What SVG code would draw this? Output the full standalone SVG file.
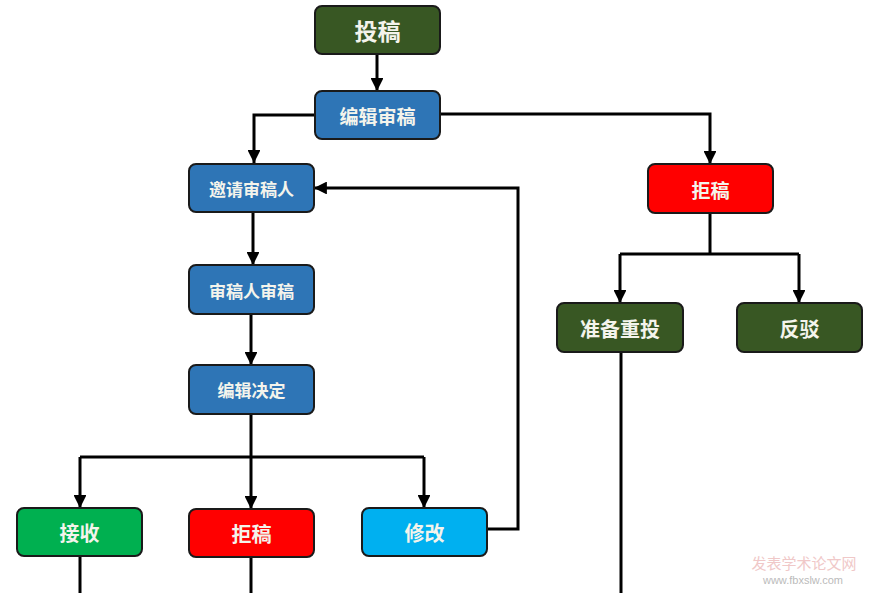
<svg xmlns="http://www.w3.org/2000/svg" width="870" height="593" viewBox="0 0 870 593">
<defs>
<marker id="ah" viewBox="0 0 10 10" refX="10" refY="5" markerWidth="4.3" markerHeight="4.3" orient="auto" markerUnits="strokeWidth">
<path d="M0,0 L10,5 L0,10 z" fill="#000"/>
</marker>
<style>
.n rect{stroke:#1a1a1a;stroke-width:2}
.n text{fill:#f4f4ec;font-family:"Noto Sans CJK SC","Noto Sans",sans-serif;font-weight:bold;text-anchor:middle;dominant-baseline:central}
.dg{fill:#385723}.bl{fill:#2e75b6}.rd{fill:#ff0000}.gr{fill:#00b050}.lb{fill:#00b0f0}
.c path{fill:none;stroke:#000;stroke-width:3}
.a{marker-end:url(#ah)}
.wm{font-family:"Noto Sans CJK SC",sans-serif;text-anchor:middle}
</style>
</defs>
<rect width="870" height="593" fill="#fff"/>
<g class="c" id="connectors">
<path class="a" d="M377,54 V91"/>
<path class="a" d="M315,115 H254 V163"/>
<path class="a" d="M440,114 H710 V164"/>
<path class="a" d="M253,212 V265"/>
<path class="a" d="M251,314 V365"/>
<path d="M251,414 V457"/>
<path d="M80,457 H424"/>
<path class="a" d="M80,457 V508"/>
<path class="a" d="M251,457 V509"/>
<path class="a" d="M424,457 V508"/>
<path class="a" d="M487,529 H518 V188 H314"/>
<path d="M710,213 V254"/>
<path d="M620,254 H799"/>
<path class="a" d="M620,254 V303"/>
<path class="a" d="M799,254 V303"/>
<path d="M621,352 V593"/>
<path d="M80,556 V593"/>
<path d="M251,557 V593"/>
</g>
<g class="n" id="n1"><rect class="dg" x="315" y="6" width="125" height="48" rx="7"/><text x="377.5" y="30" font-size="23">投稿</text></g>
<g class="n" id="n2"><rect class="bl" x="315" y="91" width="125" height="48" rx="7"/><text x="377.5" y="115" font-size="19">编辑审稿</text></g>
<g class="n" id="n3"><rect class="bl" x="189" y="164" width="125" height="48" rx="7"/><text x="251.5" y="188" font-size="17">邀请审稿人</text></g>
<g class="n" id="n4"><rect class="bl" x="189" y="265" width="125" height="49" rx="7"/><text x="251.5" y="290" font-size="17">审稿人审稿</text></g>
<g class="n" id="n5"><rect class="bl" x="189" y="365" width="125" height="49" rx="7"/><text x="251.5" y="389" font-size="17">编辑决定</text></g>
<g class="n" id="n6"><rect class="rd" x="648" y="164" width="125" height="49" rx="7"/><text x="710.5" y="189" font-size="19">拒稿</text></g>
<g class="n" id="n7"><rect class="dg" x="557" y="303" width="126" height="49" rx="7"/><text x="620" y="328" font-size="20">准备重投</text></g>
<g class="n" id="n8"><rect class="dg" x="737" y="303" width="125" height="49" rx="7"/><text x="799.5" y="328" font-size="20">反驳</text></g>
<g class="n" id="n9"><rect class="gr" x="17" y="508" width="125" height="48" rx="7"/><text x="79.5" y="532" font-size="20">接收</text></g>
<g class="n" id="n10"><rect class="rd" x="189" y="509" width="125" height="48" rx="7"/><text x="251.5" y="533" font-size="20">拒稿</text></g>
<g class="n" id="n11"><rect class="lb" x="362" y="508" width="125" height="48" rx="7"/><text x="424.5" y="532" font-size="20">修改</text></g>
<text class="wm" x="804" y="569" font-size="15" fill="#f0c8c8">发表学术论文网</text>
<text class="wm" x="803" y="584" font-size="11" fill="#bbbbbb" style="font-family:'Liberation Sans',sans-serif">www.fbxslw.com</text>
</svg>
